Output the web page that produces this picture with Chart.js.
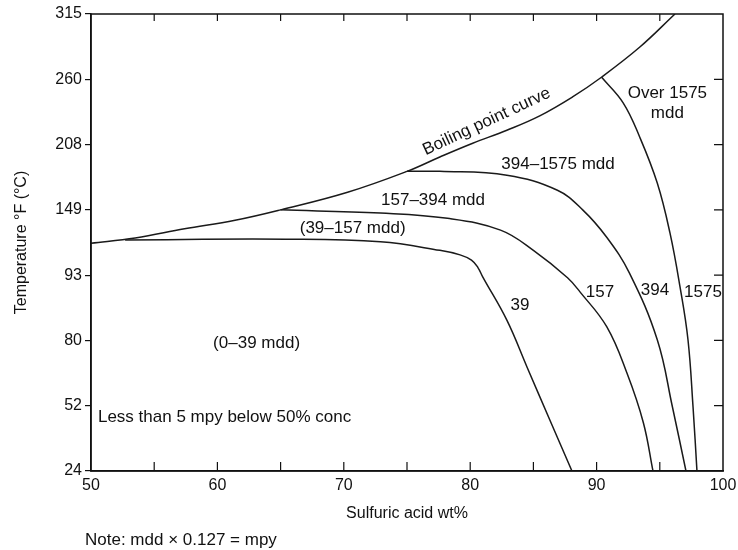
<!DOCTYPE html>
<html>
<head>
<meta charset="utf-8">
<script src="https://cdn.jsdelivr.net/npm/chart.js@4/dist/chart.umd.min.js"></script>
<style>
  html, body { margin: 0; padding: 0; background: #fff; }
  #wrap { width: 738px; height: 550px; position: relative; }
</style>
</head>
<body>
<div id="wrap"><canvas id="grafico"></canvas></div>
<script>
// y is the position of the temperature tick (0 = 24, 7 = 315), as the scale in the figure is not linear
const rotulosTemp = ["24", "52", "80", "93", "149", "208", "260", "315"];
const marcasX = [55, 60, 65, 70, 75, 80, 85, 90, 95];

const ebulicaoX = [50.0, 53.5, 57.4, 61.4, 65.0, 70.3, 75.0, 77.6, 80.2, 82.9, 85.5, 88.1, 90.3, 93.4, 96.2];
const ebulicaoY = [3.49, 3.57, 3.71, 3.84, 4.0, 4.27, 4.59, 4.81, 5.02, 5.22, 5.44, 5.73, 6.02, 6.49, 7.0];

const c39X = [52.7, 65.4, 72.9, 77.6, 79.2, 80.1, 80.6, 81.0, 82.9, 84.5, 86.3, 88.05];
const c39Y = [3.54, 3.55, 3.51, 3.38, 3.31, 3.23, 3.12, 2.97, 2.31, 1.59, 0.78, 0];

const c157X = [65.0, 72.9, 78.2, 82.4, 85.0, 87.7, 88.7, 90.8, 92.4, 93.7, 94.46];
const c157Y = [4.0, 3.95, 3.87, 3.69, 3.38, 2.96, 2.74, 2.21, 1.50, 0.74, 0];

const c394X = [75.0, 77.6, 82.9, 86.9, 88.9, 90.8, 92.6, 94.8, 96.0, 97.07];
const c394Y = [4.59, 4.59, 4.53, 4.30, 4.0, 3.58, 3.03, 2.01, 0.98, 0];

const c1575X = [90.4, 92.1, 93.4, 94.8, 95.8, 96.6, 97.23, 97.63, 97.94];
const c1575Y = [6.03, 5.64, 5.12, 4.41, 3.65, 2.82, 2.01, 0.98, 0];

const textos = [
  { t: "Boiling point curve", x: 81.3, y: 5.35, rot: -25 },
  { t: "Over 1575", x: 95.6, y: 5.79 },
  { t: "mdd", x: 95.6, y: 5.48 },
  { t: "394\u20131575 mdd", x: 86.95, y: 4.69 },
  { t: "157\u2013394 mdd", x: 77.06, y: 4.15 },
  { t: "(39\u2013157 mdd)", x: 70.7, y: 3.72 },
  { t: "39", x: 83.94, y: 2.54 },
  { t: "157", x: 90.27, y: 2.73 },
  { t: "394", x: 94.62, y: 2.77 },
  { t: "1575", x: 98.42, y: 2.73 },
  { t: "(0\u201339 mdd)", x: 63.1, y: 1.96 },
  { t: "Less than 5 mpy below 50% conc", x: 50.55, y: 0.83, align: "left" },
];

const fonte = "'Liberation Sans', Arial, sans-serif";
const corLinha = "#1a1a1a";

function pares(xs, ys) {
  return xs.map((x, i) => ({ x: x, y: ys[i] }));
}

function serie(nome, xs, ys) {
  return {
    label: nome,
    data: pares(xs, ys),
    borderColor: corLinha,
    borderWidth: 1.5,
    pointRadius: 0,
    fill: false,
    tension: 0.4,
  };
}

// inward ticks on top, bottom and right, frame and text labels
const molduraPlugin = {
  id: "moldura",
  afterDatasetsDraw(chart) {
    const ctx = chart.ctx;
    const area = chart.chartArea;
    const sx = chart.scales.x;
    const sy = chart.scales.y;
    ctx.save();
    ctx.strokeStyle = "#111";
    ctx.lineWidth = 1.5;
    ctx.strokeRect(area.left, area.top, area.right - area.left, area.bottom - area.top);

    ctx.lineWidth = 1.2;
    ctx.beginPath();
    marcasX.forEach((v) => {
      const px = sx.getPixelForValue(v);
      ctx.moveTo(px, area.bottom);
      ctx.lineTo(px, area.bottom - 9);
      ctx.moveTo(px, area.top);
      ctx.lineTo(px, area.top + 7);
    });
    for (let i = 1; i < rotulosTemp.length - 1; i++) {
      const py = sy.getPixelForValue(i);
      ctx.moveTo(area.right, py);
      ctx.lineTo(area.right - 9, py);
    }
    ctx.stroke();

    ctx.fillStyle = "#111";
    ctx.font = "17px " + fonte;
    ctx.textBaseline = "middle";
    textos.forEach((r) => {
      const px = sx.getPixelForValue(r.x);
      const py = sy.getPixelForValue(r.y);
      ctx.save();
      ctx.translate(px, py);
      if (r.rot) ctx.rotate((r.rot * Math.PI) / 180);
      ctx.textAlign = r.align || "center";
      ctx.fillText(r.t, 0, 0);
      ctx.restore();
    });

    ctx.textAlign = "left";
    ctx.fillText("Note: mdd \u00d7 0.127 = mpy", 85, 540);
    ctx.restore();
  },
};

new Chart(document.getElementById("grafico"), {
  type: "line",
  data: {
    datasets: [
      serie("Boiling point curve", ebulicaoX, ebulicaoY),
      serie("39", c39X, c39Y),
      serie("157", c157X, c157Y),
      serie("394", c394X, c394Y),
      serie("1575", c1575X, c1575Y),
    ],
  },
  options: {
    responsive: true,
    maintainAspectRatio: false,
    animation: false,
    layout: { padding: { top: 14, right: 15, left: 0, bottom: 0 } },
    plugins: {
      legend: { display: false },
      tooltip: { enabled: false },
    },
    scales: {
      x: {
        type: "linear",
        min: 50,
        max: 100,
        afterFit: (s) => {
          s.height = 79;
          s.paddingRight = 0;
          s.paddingLeft = 0;
        },
        ticks: {
          stepSize: 5,
          autoSkip: false,
          maxRotation: 0,
          padding: 5,
          color: "#111",
          font: { family: fonte, size: 16 },
          callback: (v) => (v % 10 === 0 ? String(v) : ""),
        },
        grid: { display: true, drawOnChartArea: false, drawTicks: false },
        border: { color: "#111", width: 1.5 },
        title: {
          display: true,
          text: "Sulfuric acid wt%",
          color: "#111",
          font: { family: fonte, size: 16 },
          padding: { top: 0, bottom: 27 },
        },
      },
      y: {
        type: "linear",
        min: 0,
        max: 7,
        afterFit: (s) => { s.width = 91; },
        ticks: {
          stepSize: 1,
          autoSkip: false,
          padding: 3,
          color: "#111",
          font: { family: fonte, size: 16 },
          callback: (v) => rotulosTemp[v] || "",
        },
        grid: { drawOnChartArea: false, tickLength: 6, color: "#111", lineWidth: 1.2 },
        border: { color: "#111", width: 1.5 },
        title: {
          display: true,
          text: "Temperature \u00b0F (\u00b0C)",
          color: "#111",
          font: { family: fonte, size: 16 },
          padding: { top: 12, bottom: 0 },
        },
      },
    },
  },
  plugins: [molduraPlugin],
});
</script>
</body>
</html>
